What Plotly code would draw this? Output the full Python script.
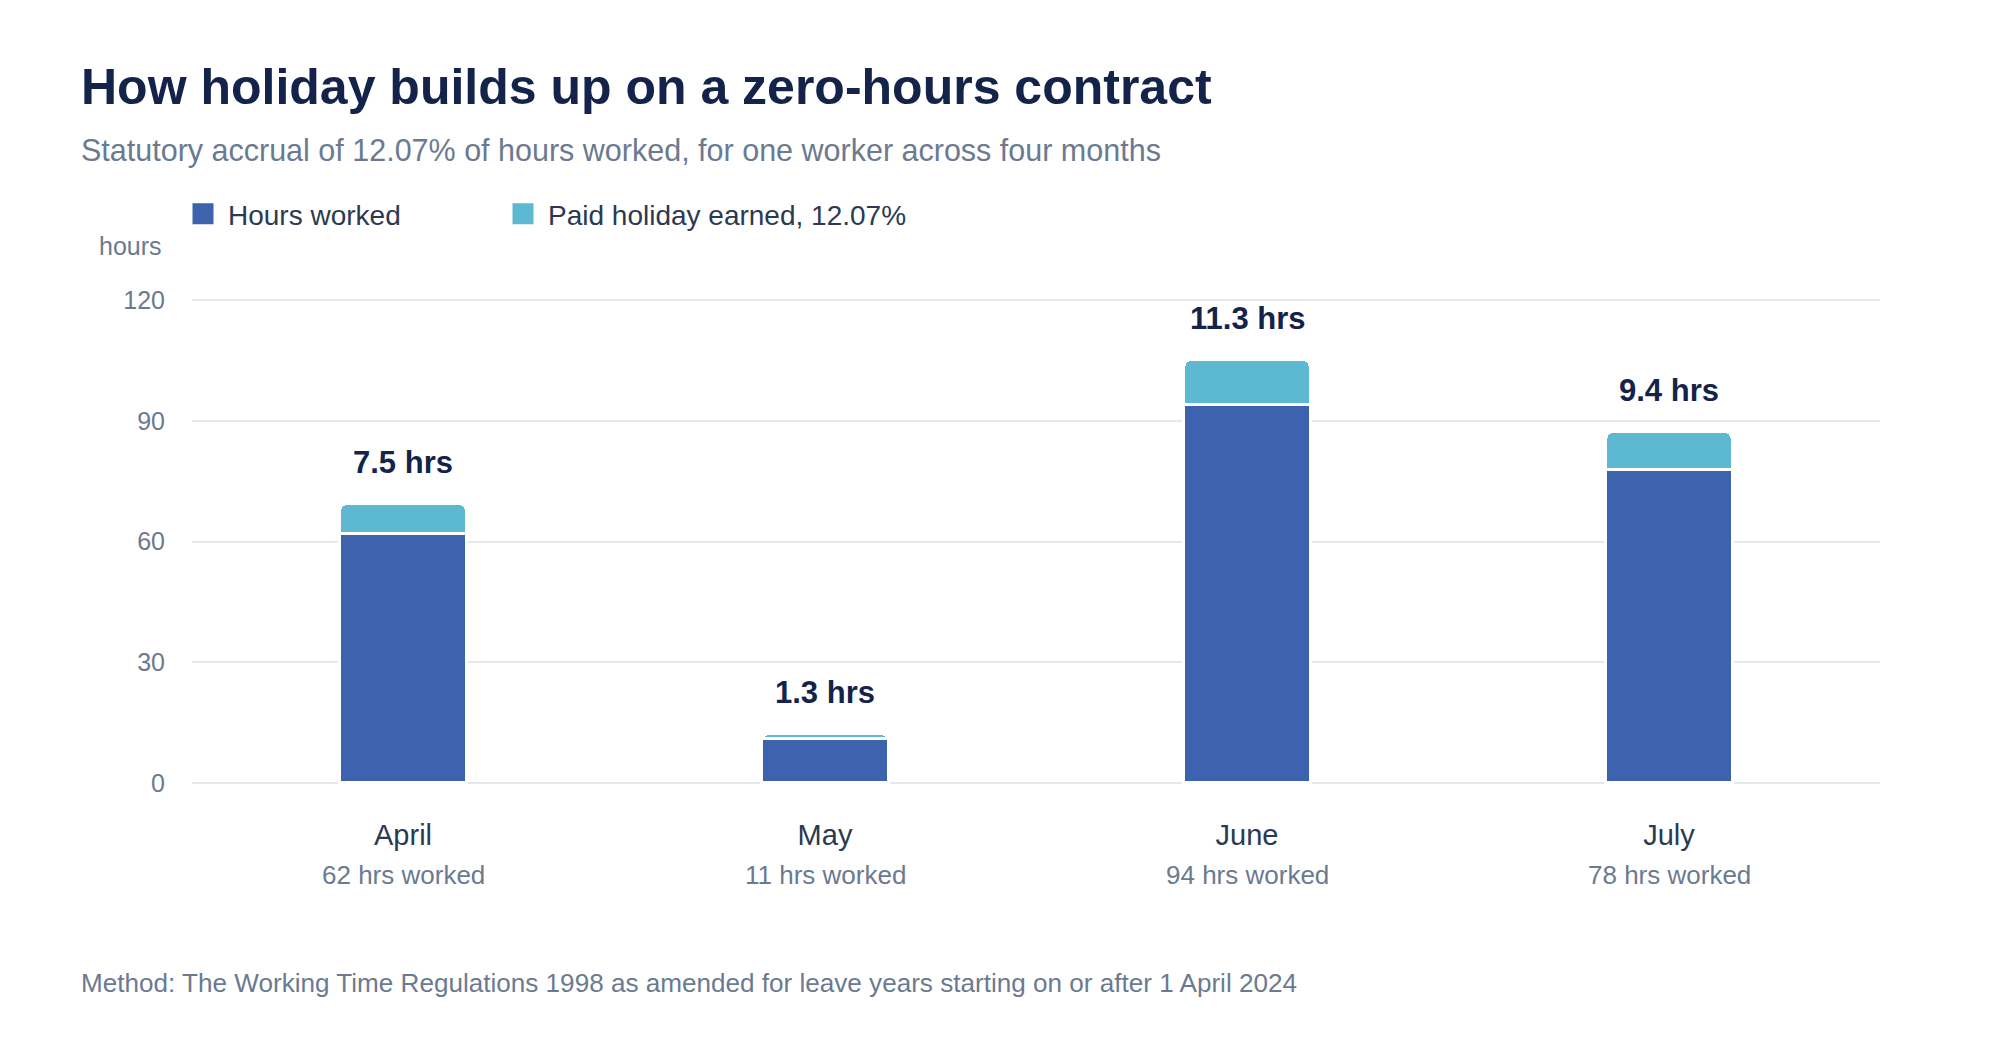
import plotly.graph_objects as go

# ---- data ----
months = ["April", "May", "June", "July"]
hours_worked = [62, 11, 94, 78]
holiday_earned = [7.5, 1.3, 11.3, 9.4]
y_ticks = [0, 30, 60, 90, 120]

title = "How holiday builds up on a zero-hours contract"
subtitle = "Statutory accrual of 12.07% of hours worked, for one worker across four months"
footer = "Method: The Working Time Regulations 1998 as amended for leave years starting on or after 1 April 2024"

# ---- layout geometry (pixels) ----
W, H = 2000, 1040
Y0_PX, Y120_PX = 783, 300          # pixel rows of 0 and 120
PPU = (Y0_PX - Y120_PX) / 120.0    # pixels per unit
YMIN, YMAX = -0.5, 120.5
L, R = 192, 1880
T = Y120_PX - (YMAX - 120) * PPU
B = Y0_PX + (0 - YMIN) * PPU


def px(x):
    return (x - L) / (R - L)


def py(y):
    return (B - y) / (B - T)


FONT = "Liberation Sans, Arial, Helvetica, sans-serif"
C_HOURS = "#3d62ae"
C_HOL = "#5db8d1"
C_TITLE = "#14234a"
C_GRAY = "#6b7a90"
C_DARK = "#2b3a52"

fig = go.Figure()

fig.add_trace(go.Bar(
    x=months, y=hours_worked, name="Hours worked",
    marker=dict(color=C_HOURS, line=dict(color="white", width=3)),
    showlegend=False, hoverinfo="skip",
))
fig.add_trace(go.Bar(
    x=months, y=holiday_earned, name="Paid holiday earned, 12.07%",
    marker=dict(color=C_HOL, line=dict(color="white", width=3)),
    showlegend=False, hoverinfo="skip",
))

# legend-only entries, each in its own legend box
for nm, col, lg in [("Hours worked", C_HOURS, "legend"),
                    ("Paid holiday earned, 12.07%", C_HOL, "legend2")]:
    fig.add_trace(go.Scatter(
        x=[None], y=[None], mode="markers", name=nm, legend=lg,
        marker=dict(symbol="square", size=16, color=col, line=dict(color=col, width=5)),
    ))

totals = [h + d for h, d in zip(hours_worked, holiday_earned)]
annotations = []
for m, t, d in zip(months, totals, holiday_earned):
    annotations.append(dict(
        x=m, y=t, xref="x", yref="y", text=f"<b>{d} hrs</b>",
        showarrow=False, yanchor="middle", yshift=41,
        font=dict(family=FONT, size=31, color=C_TITLE),
    ))
for m, h in zip(months, hours_worked):
    annotations.append(dict(
        x=m, y=py(875), xref="x", yref="paper", text=f"{h} hrs worked",
        showarrow=False, yanchor="middle",
        font=dict(family=FONT, size=26, color=C_GRAY),
    ))

annotations += [
    dict(x=px(79), y=py(87), xref="paper", yref="paper", text=f"<b>{title}</b>",
         showarrow=False, xanchor="left", yanchor="middle",
         font=dict(family=FONT, size=50, color=C_TITLE)),
    dict(x=px(79), y=py(150), xref="paper", yref="paper", text=subtitle,
         showarrow=False, xanchor="left", yanchor="middle",
         font=dict(family=FONT, size=30.5, color=C_GRAY)),
    dict(x=px(164), y=py(246), xref="paper", yref="paper", text="hours",
         showarrow=False, xanchor="right", yanchor="middle",
         font=dict(family=FONT, size=25, color=C_GRAY)),
    dict(x=px(79), y=py(983), xref="paper", yref="paper", text=footer,
         showarrow=False, xanchor="left", yanchor="middle",
         font=dict(family=FONT, size=26.1, color=C_GRAY)),
]

legend_common = dict(
    orientation="h", xanchor="left", yanchor="middle",
    font=dict(family=FONT, size=28, color=C_DARK),
    itemsizing="trace", itemwidth=40, bgcolor="rgba(0,0,0,0)",
)

fig.update_layout(
    width=W, height=H,
    margin=dict(l=L, r=W - R, t=T, b=H - B, pad=0),
    paper_bgcolor="white", plot_bgcolor="white",
    barmode="stack", bargap=0.7, barcornerradius=8,
    font=dict(family=FONT, color=C_GRAY),
    showlegend=True,
    legend=dict(x=px(178), y=py(214), **legend_common),
    legend2=dict(x=px(498), y=py(214), **legend_common),
    annotations=annotations,
    xaxis=dict(
        showgrid=False, showline=False, zeroline=False, ticks="",
        tickfont=dict(family=FONT, size=29, color=C_DARK),
        ticklabelstandoff=30,
    ),
    yaxis=dict(
        range=[YMIN, YMAX], tickvals=y_ticks, showgrid=True, gridcolor="#e3e8ee", gridwidth=2,
        zeroline=False, showline=False, ticks="",
        tickfont=dict(family=FONT, size=25, color=C_GRAY),
        ticklabelstandoff=26,
    ),
)

fig.write_html("out.html")
